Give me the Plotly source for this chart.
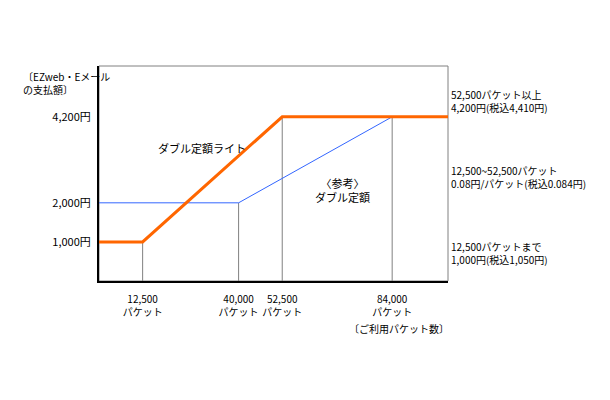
import plotly.graph_objects as go

# data: double flat-rate plans (packets vs monthly fee in yen)
lite_x = [0, 12500, 52500, 100000]
lite_y = [1000, 1000, 4200, 4200]
std_x = [0, 40000, 84000, 100000]
std_y = [2000, 2000, 4200, 4200]

guide_x = [12500, 40000, 52500, 84000]
guide_top = [1000, 2000, 4200, 4200]

x_ticks = [12500, 40000, 52500, 84000]
x_ticktext = ["12,500<br>パケット", "40,000<br>パケット", "52,500<br>パケット", "84,000<br>パケット"]
y_ticks = [1000, 2000, 4200]
y_ticktext = ["1,000円", "2,000円", "4,200円"]

FONT = "Noto Sans CJK JP"

fig = go.Figure()

# vertical guide lines from the axis up to the curves
gx, gy = [], []
for x, top in zip(guide_x, guide_top):
    gx += [x, x, None]
    gy += [0, top, None]
fig.add_trace(go.Scatter(x=gx, y=gy, mode="lines",
                         line=dict(color="#808080", width=1), hoverinfo="skip"))

fig.add_trace(go.Scatter(x=std_x, y=std_y, mode="lines",
                         line=dict(color="#3366ff", width=1), name="ダブル定額"))
fig.add_trace(go.Scatter(x=lite_x, y=lite_y, mode="lines",
                         line=dict(color="#ff6600", width=3), name="ダブル定額ライト"))

# gray frame (top/right), black axes (left/bottom)
fig.add_shape(type="rect", xref="paper", yref="paper", x0=0, x1=1, y0=0, y1=1,
              line=dict(color="#808080", width=1), layer="below")

fig.update_xaxes(range=[0, 100000], tickvals=x_ticks, ticktext=x_ticktext,
                 tickangle=0, automargin=False, tickfont=dict(size=10),
                 showgrid=False, zeroline=False, showline=True,
                 linecolor="black", linewidth=2, ticks="", ticklabelstandoff=8)
fig.update_yaxes(range=[0, 5500], tickvals=y_ticks, ticktext=y_ticktext,
                 automargin=False,
                 showgrid=False, zeroline=False, showline=True,
                 linecolor="black", linewidth=2, ticks="", ticklabelstandoff=4)

notes = [
    ("52,500パケット以上<br>4,200円(税込4,410円)", 4616),
    ("12,500~52,500パケット<br>0.08円/パケット(税込0.084円)", 2673),
    ("12,500パケットまで<br>1,000円(税込1,050円)", 729),
]
for text, y in notes:
    fig.add_annotation(text=text, xref="paper", x=1, xshift=1, xanchor="left",
                       y=y, yanchor="middle", showarrow=False, align="left",
                       font=dict(size=10))

fig.add_annotation(text="〔EZweb・Eメール<br>の支払額〕", xref="paper", x=0, xshift=-78,
                   xanchor="left", yref="paper", y=0.921, yanchor="middle",
                   showarrow=False, align="left", font=dict(size=10))
fig.add_annotation(text="〔ご利用パケット数〕", xref="paper", x=1, xshift=3,
                   xanchor="right", yref="paper", y=-0.219, yanchor="middle",
                   showarrow=False, font=dict(size=10))
fig.add_annotation(text="ダブル定額ライト", x=29400, y=3400, showarrow=False)
fig.add_annotation(text="〈参考〉<br>ダブル定額", x=69700, y=2340, showarrow=False)

# page body adds an 8px offset, so the figure is 8px smaller on each axis
fig.update_layout(
    width=602, height=392,
    margin=dict(l=91, r=162, t=58, b=119),
    plot_bgcolor="white", paper_bgcolor="white",
    showlegend=False,
    font=dict(family=FONT, size=11, color="black"),
)

fig.write_html("out.html")
